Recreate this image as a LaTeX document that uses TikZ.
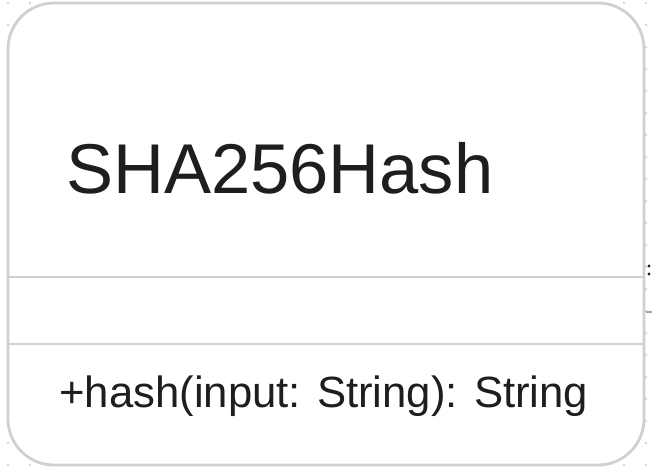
\documentclass[tikz,border=0pt]{standalone}
\usepackage{fontspec}
\setmainfont{Liberation Sans}
\usetikzlibrary{calc}

\definecolor{boxline}{HTML}{D0D0D0}
\definecolor{ink}{HTML}{1E1E1E}
\definecolor{griddot}{HTML}{C8C8C8}

\begin{document}
\begin{tikzpicture}[x=1pt, y=-1pt,
    classbox/.style={draw=boxline, line width=2.8pt, fill=white, rounded corners=46pt},
    divider/.style={draw=boxline, line width=2.6pt},
    title/.style={anchor=base west, inner sep=0pt, text=ink, font=\fontsize{70.5}{80}\selectfont},
    member/.style={anchor=base west, inner sep=0pt, text=ink, font=\fontsize{43.7}{52}\selectfont}]
    \useasboundingbox (0,0) rectangle (652,472);
    % background dots
    \foreach \i in {0,...,29}
        \foreach \j in {0,...,21}
            \fill[griddot] (8+22*\i, 3+22*\j) circle (1.1pt);
    % the class
    \draw[classbox] (8,3) rectangle (644,465);
    \coordinate (sepAw) at (8,277);
    \coordinate (sepAe) at (644,277);
    \coordinate (sepBw) at (8,344);
    \coordinate (sepBe) at (644,344);
    \draw[divider] (sepAw) -- (sepAe);
    \draw[divider] (sepBw) -- (sepBe);
    \node[title] (name) at (66,193) {SHA256Hash};
    \node[member] (hash) at (59,407) {+hash(input: String): String};
    % clipped bits at the right edge
    \fill[ink] (649,266) circle (1.6pt);
    \fill[ink] (649,274) circle (1.6pt);
    \draw[line width=2.5pt, gray!70] (646,312) -- (652,312);
\end{tikzpicture}
\end{document}
